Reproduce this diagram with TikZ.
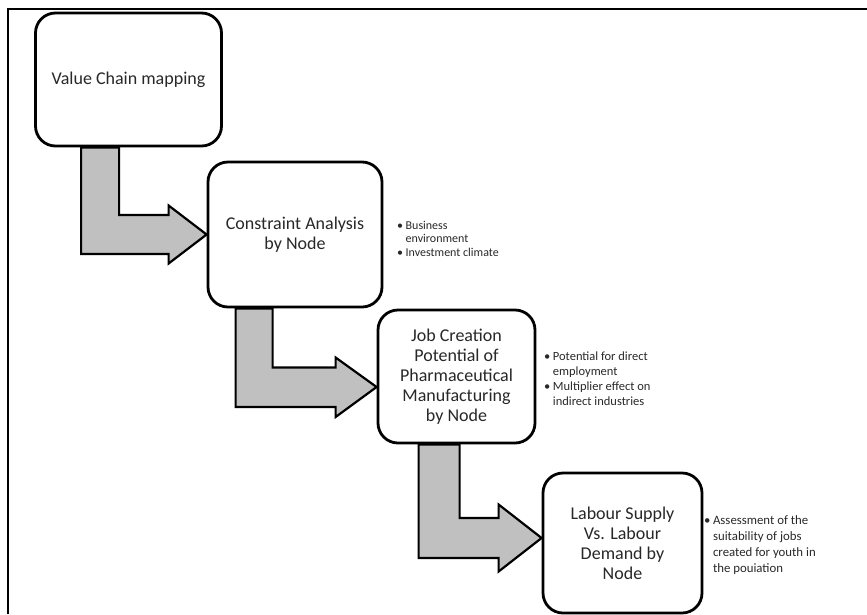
\documentclass[tikz,border=0pt]{standalone}
\usepackage{fontspec}
\setmainfont{Carlito}
\usetikzlibrary{calc}
\definecolor{arrgray}{RGB}{192,192,192}
\definecolor{txt}{RGB}{40,40,40}
\begin{document}
\begin{tikzpicture}[x=1pt,y=-1pt,
  box/.style={draw=black, line width=2.8pt, fill=white, rounded corners=20pt, align=center, inner sep=0pt, font=\fontsize{18}{20}\selectfont, text=txt},
  barrow/.style={draw=black, line width=2.2pt, fill=arrgray, line join=miter},
  notes/.style={anchor=base west, inner sep=0pt, text=txt}]
\useasboundingbox (0,0) rectangle (867,614);
\draw[line width=1.5pt] (8,614) coordinate (fb) -- (8,9) coordinate (fc) -- (867,9) coordinate (fr);

\node[box, minimum width=186pt, minimum height=133pt] (b1) at (128.5,79.5) {Value Chain mapping};
\node[box, minimum width=174pt, minimum height=145pt] (b2) at (295,234.5) {Constraint Analysis\\by Node};
\node[box, minimum width=157pt, minimum height=133pt] (b3) at (456.5,376.5) {Job Creation\\Potential of\\Pharmaceutical\\Manufacturing\\by Node};
\node[box, minimum width=159pt, minimum height=140pt] (b4) at (622.5,543) {Labour Supply\\Vs. Labour\\Demand by\\Node};

% bent arrows
\coordinate (t1) at (b2.west);
\draw[barrow] ($(b1.south west)+(47,0)$) coordinate (a1s) -- ++(38,0) |- ($(t1)+(-38,-19.5)$) -- ++(0,-9.5) -- (t1) -- ++(-38,29) -- ++(0,-9.5) -| (a1s) -- cycle;

\coordinate (t2) at ($(b3.west)+(0,10.5)$);
\draw[barrow] ($(b2.south west)+(29,0)$) coordinate (a2s) -- ++(37,0) |- ($(t2)+(-41,-19.5)$) -- ++(0,-10) -- (t2) -- ++(-41,30) -- ++(0,-10) -| (a2s) -- cycle;

\coordinate (t3) at ($(b4.west)+(0,-5)$);
\draw[barrow] ($(b3.south west)+(42,0)$) coordinate (a3s) -- ++(41,0) |- ($(t3)+(-43,-20)$) -- ++(0,-13.5) -- (t3) -- ++(-43,33.5) -- ++(0,-13.5) -| (a3s) -- cycle;

% bullet notes
\node[notes, font=\fontsize{12}{13.5}\selectfont] (n2) at (397,229) {\begin{tabular}[t]{@{}l@{\hspace{2.5pt}}l@{}}•&Business\\&environment\\•&Investment climate\end{tabular}};
\node[notes, font=\fontsize{12.5}{15.3}\selectfont] (n3) at (544,360) {\begin{tabular}[t]{@{}l@{\hspace{2.5pt}}l@{}}•&Potential for direct\\&employment\\•&Multiplier effect on\\&indirect industries\end{tabular}};
\node[notes, font=\fontsize{12.8}{16}\selectfont] (n4) at (704,524) {\begin{tabular}[t]{@{}l@{\hspace{2.5pt}}l@{}}•&Assessment of the\\&suitability of jobs\\&created for youth in\\&the pouiation\end{tabular}};
\end{tikzpicture}
\end{document}
